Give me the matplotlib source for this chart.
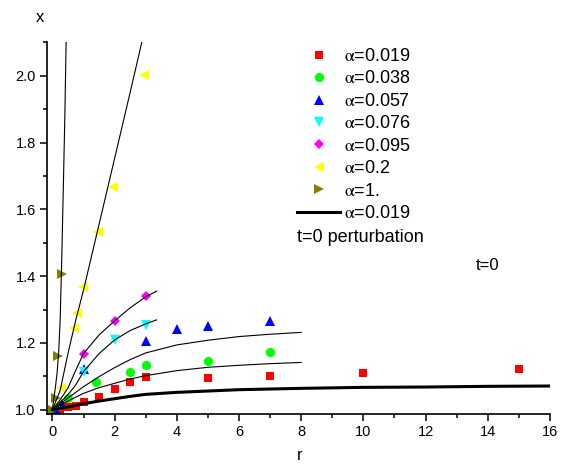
import matplotlib
matplotlib.use("Agg")
import matplotlib.pyplot as plt
from matplotlib.lines import Line2D
from matplotlib.ticker import MultipleLocator

plt.rcParams['font.family'] = ['Liberation Sans', 'DejaVu Sans']
plt.rcParams['mathtext.fontset'] = 'stix'

# measured points, one array pair per alpha
red_r = [0.25, 0.5, 0.75, 1, 1.5, 2, 2.5, 3, 5, 7, 10, 15]
red_x = [1.0, 1.007, 1.011, 1.022, 1.037, 1.061, 1.083, 1.097, 1.096, 1.101, 1.109, 1.122]

green_r = [0.25, 0.5, 1.4, 2.5, 3, 5, 7]
green_x = [1.015, 1.035, 1.083, 1.113, 1.135, 1.147, 1.173]

blue_r = [0.1, 0.3, 1, 3, 4, 5, 7]
blue_x = [1.003, 1.018, 1.122, 1.205, 1.241, 1.25, 1.266]

cyan_r = [1, 2, 3]
cyan_x = [1.114, 1.209, 1.254]

magenta_r = [1, 2, 3]
magenta_x = [1.168, 1.266, 1.339]

yellow_r = [0.08, 0.27, 0.68, 0.78, 0.97, 1.47, 1.96, 2.95]
yellow_x = [1.01, 1.064, 1.244, 1.29, 1.366, 1.533, 1.668, 2.002]

olive_r = [0.02, 0.1, 0.19, 0.32]
olive_x = [1.0, 1.036, 1.161, 1.407]

# t=0 perturbation curves
pert_r = [0, 0.25, 0.5, 1, 1.5, 2, 2.5, 3, 4, 5, 6, 8, 10, 12, 14, 16]
pert_x = [1.0, 1.004, 1.008, 1.018, 1.026, 1.033, 1.040, 1.046, 1.052,
          1.056, 1.060, 1.064, 1.067, 1.068, 1.070, 1.071]

c038_r = [0, 0.25, 0.5, 1, 1.5, 2, 2.5, 3, 4, 5, 6, 7, 8]
c038_x = [1.0, 1.013, 1.026, 1.049, 1.066, 1.079, 1.092, 1.102, 1.117,
          1.127, 1.133, 1.138, 1.1415]

c057_r = [0, 0.25, 0.5, 1, 1.5, 2, 2.5, 3, 4, 5, 6, 7, 8]
c057_x = [1.0, 1.017, 1.035, 1.069, 1.099, 1.126, 1.150, 1.170, 1.194,
          1.208, 1.219, 1.226, 1.2315]

c076_r = [0, 0.25, 0.5, 0.75, 1, 1.5, 2, 2.5, 3, 3.35]
c076_x = [1.0, 1.022, 1.045, 1.074, 1.114, 1.168, 1.209, 1.237, 1.257, 1.269]

c095_r = [0, 0.25, 0.5, 0.75, 1, 1.5, 2, 2.5, 3, 3.35]
c095_x = [1.0, 1.030, 1.065, 1.118, 1.168, 1.224, 1.266, 1.305, 1.338, 1.355]

c2_r = [0, 0.25, 0.5, 0.75, 1.0, 1.5, 2.0, 2.5, 3.0]
c2_x = [1.0, 1.058, 1.168, 1.268, 1.358, 1.555, 1.752, 1.95, 2.15]

c1_r = [0, 0.05, 0.1, 0.15, 0.2, 0.25, 0.3, 0.35, 0.4, 0.45]
c1_x = [1.0, 1.035, 1.07, 1.11, 1.17, 1.27, 1.45, 1.66, 1.88, 2.15]

labels = ['0.019', '0.038', '0.057', '0.076', '0.095', '0.2', '1.']

fig = plt.figure(figsize=(5.64, 4.70), dpi=100)
ax = fig.add_axes([0.083, 0.119, 0.892, 0.791])

ms = dict(linestyle='none', markeredgewidth=0, zorder=2)
ax.plot(red_r, red_x, marker='s', color='#ff0000', markersize=5.6, **ms)
ax.plot(green_r, green_x, marker='o', color='#00ff00', markersize=6.6, **ms)
ax.plot(blue_r, blue_x, marker='^', color='#0000ff', markersize=7.5, **ms)
ax.plot(cyan_r, cyan_x, marker='v', color='#00ffff', markersize=7.5, **ms)
ax.plot(magenta_r, magenta_x, marker='D', color='#ff00ff', markersize=5.3, **ms)
ax.plot(yellow_r, yellow_x, marker='<', color='#ffff00', markersize=7.5, **ms)
ax.plot(olive_r, olive_x, marker='>', color='#808000', markersize=7.5, **ms)

for cr, cx in [(c038_r, c038_x), (c057_r, c057_x), (c076_r, c076_x),
               (c095_r, c095_x), (c2_r, c2_x), (c1_r, c1_x)]:
    ax.plot(cr, cx, color='black', linewidth=0.8, zorder=3)
ax.plot(pert_r, pert_x, color='black', linewidth=2.2, zorder=3)

ax.set_xlim(-0.18, 16)
ax.set_ylim(0.987, 2.1)
ax.xaxis.set_major_locator(MultipleLocator(2))
ax.xaxis.set_minor_locator(MultipleLocator(1))
ax.yaxis.set_major_locator(MultipleLocator(0.2))
ax.yaxis.set_minor_locator(MultipleLocator(0.1))
ax.tick_params(which='major', direction='out', length=5, width=1.1, labelsize=10.5, pad=3)
ax.tick_params(which='minor', direction='out', length=3, width=1.1)
ax.spines['top'].set_visible(False)
ax.spines['right'].set_visible(False)
for s in ('left', 'bottom'):
    ax.spines[s].set_linewidth(1.2)

fig.text(40 / 564, 1 - 18 / 470, 'x', fontsize=12, ha='center', va='center')
fig.text(300 / 564, 1 - 455 / 470, 'r', fontsize=12, ha='center', va='center')

handles = [
    Line2D([], [], marker='s', color='#ff0000', markersize=5.6, **ms),
    Line2D([], [], marker='o', color='#00ff00', markersize=6.6, **ms),
    Line2D([], [], marker='^', color='#0000ff', markersize=7.5, **ms),
    Line2D([], [], marker='v', color='#00ffff', markersize=7.5, **ms),
    Line2D([], [], marker='D', color='#ff00ff', markersize=5.3, **ms),
    Line2D([], [], marker='<', color='#ffff00', markersize=7.5, **ms),
    Line2D([], [], marker='>', color='#808000', markersize=7.5, **ms),
    Line2D([], [], color='black', linewidth=2.2),
]
texts = [r'$\mathrm{\alpha}$=' + a for a in labels] + [r'$\mathrm{\alpha}$=0.019']
ax.legend(handles, texts, loc='upper left', bbox_to_anchor=(297 / 564, 1 - 48 / 470),
          bbox_transform=fig.transFigure, frameon=False, fontsize=13,
          handlelength=2.4, handletextpad=0.2, labelspacing=0.3,
          borderpad=0, borderaxespad=0)
fig.text(297 / 564, 1 - 238 / 470, 't=0 perturbation', fontsize=13, ha='left', va='center')
fig.text(476 / 564, 1 - 265 / 470, 't=0', fontsize=12, ha='left', va='center')

fig.savefig('out.png', dpi=100)
